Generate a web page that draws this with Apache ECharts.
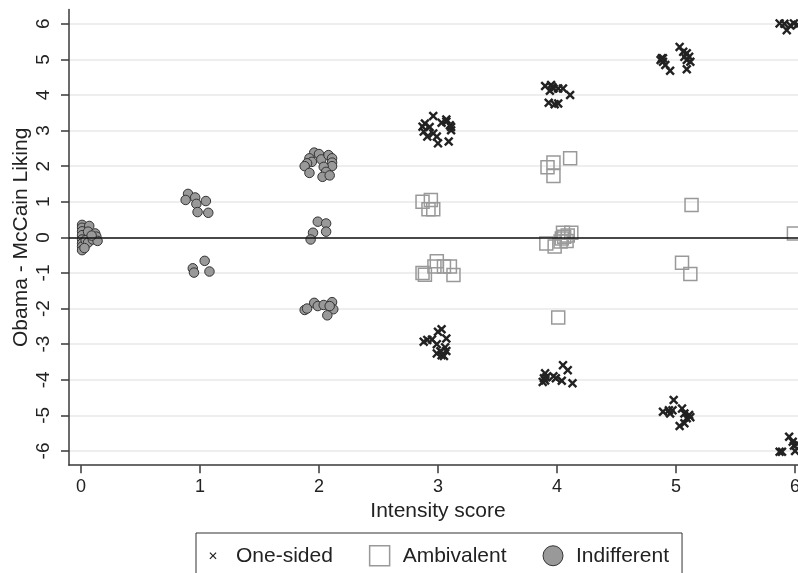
<!DOCTYPE html>
<html>
<head>
<meta charset="utf-8">
<script src="https://cdn.jsdelivr.net/npm/echarts@6/dist/echarts.min.js"></script>
<style>html,body{margin:0;padding:0;background:#fff;}#c{width:798px;height:573px;}</style>
</head>
<body>
<div id="c"></div>
<script>
// Tick labels
var xTicks = [0, 1, 2, 3, 4, 5, 6];
var yTicks = [-6, -5, -4, -3, -2, -1, 0, 1, 2, 3, 4, 5, 6];

// Series values [intensity (jittered), Obama - McCain liking (jittered)]
var indifferent = [
  [0.01, 0.35], [0.01, 0.27], [0.01, 0.17], [0.01, 0.06], [0.01, -0.06], [0.01, -0.17],
  [0.01, -0.26], [0.01, -0.36], [0.07, 0.32], [0.06, 0.16], [0.04, -0.08], [0.06, -0.15],
  [0.03, -0.30], [0.12, 0.11], [0.13, 0.02], [0.10, -0.06], [0.14, -0.10], [0.09, 0.05],
  [0.90, 1.22], [0.88, 1.05], [0.96, 1.12], [0.97, 0.94], [1.05, 1.02], [0.98, 0.71], [1.07, 0.69],
  [1.04, -0.66], [0.94, -0.87], [0.95, -0.99], [1.08, -0.96],
  [1.96, 2.38], [2.00, 2.34], [1.92, 2.22], [1.94, 2.12], [1.90, 2.08], [1.88, 2.00], [1.92, 1.81],
  [2.02, 2.19], [2.08, 2.31], [2.11, 2.22], [2.11, 2.10], [2.11, 2.00], [2.04, 1.98], [2.06, 1.84],
  [2.03, 1.70], [2.09, 1.74],
  [1.99, 0.44], [2.06, 0.39], [1.95, 0.13], [2.06, 0.16], [1.93, -0.06],
  [1.88, -2.04], [1.90, -2.00], [1.96, -1.84], [1.99, -1.93], [2.04, -1.90], [2.11, -1.82],
  [2.12, -2.02], [2.07, -2.19], [2.09, -1.93]
];
var ambivalent = [
  [2.87, 1.00], [2.94, 1.05], [2.92, 0.79], [2.96, 0.79],
  [2.87, -1.00], [2.89, -1.05], [2.99, -0.67], [2.97, -0.82], [3.05, -0.82], [3.10, -0.82], [3.13, -1.06],
  [3.97, 2.10], [3.92, 1.97], [3.97, 1.72], [4.11, 2.22],
  [3.91, -0.17], [3.98, -0.26], [4.05, 0.13], [4.06, 0.02], [4.04, -0.03], [4.12, 0.13],
  [4.08, -0.10], [4.03, -0.12], [4.09, 0.05],
  [4.01, -2.25],
  [5.13, 0.91], [5.05, -0.71], [5.12, -1.03],
  [5.99, 0.11]
];
var oneSided = [
  [2.96, 3.41], [2.89, 3.20], [2.87, 3.11], [2.93, 3.10], [2.88, 2.97], [2.91, 2.83], [2.96, 2.92],
  [2.99, 2.83], [3.00, 2.64], [3.03, 3.22], [3.07, 3.31], [3.10, 3.15], [3.11, 3.01], [3.09, 2.69],
  [3.07, 3.25], [3.11, 3.10],
  [3.03, -2.58], [3.00, -2.65], [2.88, -2.93], [2.91, -2.88], [2.95, -2.87], [2.99, -3.00], [3.07, -2.84],
  [3.06, -3.09], [2.99, -3.26], [3.03, -3.31], [3.07, -3.19], [3.05, -3.33], [3.02, -3.20],
  [3.90, 4.25], [3.95, 4.28], [3.97, 4.18], [3.94, 4.12], [4.01, 4.18], [4.05, 4.18], [4.11, 4.00],
  [3.93, 3.78], [3.98, 3.74], [4.01, 3.76], [3.96, 4.22],
  [4.05, -3.59], [4.09, -3.73], [3.90, -3.82], [3.89, -3.96], [3.88, -4.06], [3.90, -4.02],
  [3.97, -3.90], [3.99, -3.96], [4.04, -4.03], [4.13, -4.10], [3.91, -3.93],
  [4.88, 5.03], [4.89, 4.93], [4.87, 4.98], [4.91, 4.84], [4.95, 4.68], [5.03, 5.35], [5.06, 5.21],
  [5.09, 5.17], [5.11, 5.07], [5.09, 4.98], [5.12, 4.93], [5.09, 4.72], [5.07, 5.07], [4.89, 5.03],
  [4.98, -4.57], [4.89, -4.90], [4.94, -4.86], [4.95, -4.95], [4.97, -4.86], [5.05, -4.81], [5.07, -4.95],
  [5.11, -4.99], [5.09, -5.08], [5.07, -5.22], [5.03, -5.30], [5.12, -5.05],
  [5.87, 6.01], [5.91, 6.00], [5.93, 5.82], [5.96, 5.95], [5.99, 6.01], [6.02, 5.97],
  [5.87, -6.02], [5.89, -6.02], [5.95, -5.60], [5.98, -5.74], [5.99, -5.85], [6.00, -6.00], [6.02, -5.80]
];

var FONT = 'Liberation Sans, Arial, Helvetica, sans-serif';
var X_PATH = 'path://M0,1.8L1.8,0L5,3.2L8.2,0L10,1.8L6.8,5L10,8.2L8.2,10L5,6.8L1.8,10L0,8.2L3.2,5Z';
var X_LEGEND = 'path://M0,0M20,20M6.5,7.35L7.35,6.5L10,9.15L12.65,6.5L13.5,7.35L10.85,10L13.5,12.65L12.65,13.5L10,10.85L7.35,13.5L6.5,12.65L9.15,10Z';

var chart = echarts.init(document.getElementById('c'), null, {renderer: 'canvas'});
chart.setOption({
  animation: false,
  backgroundColor: '#fff',
  grid: {left: 69, top: 9.5, width: 738, height: 455.7, containLabel: false, outerBoundsMode: 'none'},
  xAxis: {
    type: 'value', min: -0.1, max: 6.1,
    name: 'Intensity score', nameLocation: 'middle', nameGap: 34,
    nameTextStyle: {fontFamily: FONT, fontSize: 21, color: '#222'},
    axisLine: {show: true, onZero: false, lineStyle: {color: '#3a3a3a', width: 1.5}},
    axisTick: {show: true, length: 8, customValues: xTicks, lineStyle: {color: '#3a3a3a', width: 1.5}},
    axisLabel: {customValues: xTicks, margin: 13, fontFamily: FONT, fontSize: 18, color: '#222'},
    splitLine: {show: false}
  },
  yAxis: {
    type: 'value', min: -6.4, max: 6.4,
    name: 'Obama - McCain Liking', nameLocation: 'middle', nameGap: 37, nameRotate: 90,
    nameMoveOverlap: false,
    nameTextStyle: {fontFamily: FONT, fontSize: 21, color: '#222'},
    axisLine: {show: true, onZero: false, lineStyle: {color: '#3a3a3a', width: 1.5}},
    axisTick: {show: true, length: 8, customValues: yTicks, lineStyle: {color: '#3a3a3a', width: 1.5}},
    axisLabel: {customValues: yTicks, rotate: 90, margin: 16, fontFamily: FONT, fontSize: 19, color: '#222'},
    splitLine: {show: true, lineStyle: {color: '#e8e8e8', width: 1.5}}
  },
  legend: {
    left: 196, top: 533, orient: 'horizontal',
    itemWidth: 20, itemHeight: 20, itemGap: 36,
    padding: [12, 13, 12, 7],
    borderColor: '#333', borderWidth: 1,
    selectedMode: false,
    textStyle: {fontFamily: FONT, fontSize: 21, color: '#222', padding: [0, 0, 0, 8]},
    data: [
      {name: 'One-sided', icon: X_LEGEND, itemStyle: {color: '#222', borderWidth: 0}},
      {name: 'Ambivalent', icon: 'rect', itemStyle: {color: '#fff', borderColor: '#999', borderWidth: 1.5}},
      {name: 'Indifferent', icon: 'circle', itemStyle: {color: '#999', borderColor: '#333', borderWidth: 1}}
    ]
  },
  series: [
    {
      name: 'zero', type: 'scatter', data: [], z: 1, silent: true,
      markLine: {silent: true, symbol: 'none', label: {show: false}, animation: false,
        lineStyle: {color: '#111', width: 1.5, type: 'solid'}, data: [{yAxis: 0}]}
    },
    {
      name: 'Indifferent', type: 'scatter', data: indifferent, symbol: 'circle', symbolSize: 9.5, z: 3,
      itemStyle: {color: '#999', borderColor: '#333', borderWidth: 1, opacity: 1}
    },
    {
      name: 'Ambivalent', type: 'scatter', data: ambivalent, symbol: 'rect', symbolSize: 13, z: 3,
      itemStyle: {color: 'rgba(255,255,255,0)', borderColor: '#999', borderWidth: 1.5, opacity: 1}
    },
    {
      name: 'One-sided', type: 'scatter', data: oneSided, symbol: X_PATH, symbolSize: 9.5, z: 4,
      itemStyle: {color: '#222', opacity: 1}
    }
  ]
});
</script>
</body>
</html>
